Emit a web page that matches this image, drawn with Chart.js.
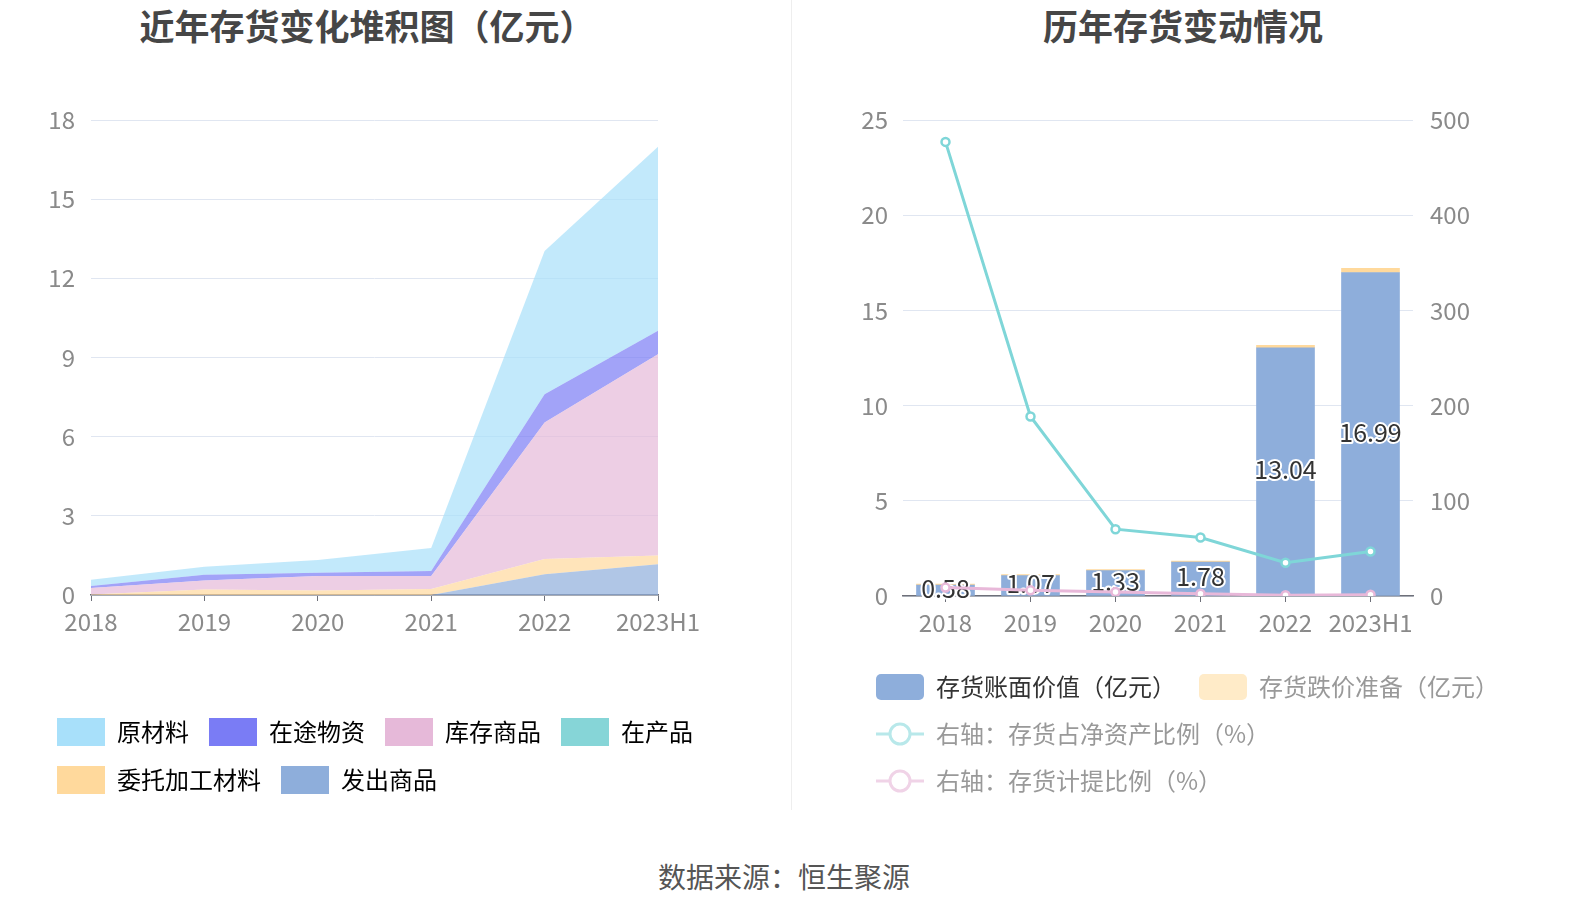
<!DOCTYPE html>
<html>
<head>
<meta charset="utf-8">
<script src="https://cdn.jsdelivr.net/npm/chart.js@4.4.0/dist/chart.umd.min.js"></script>
<style>
  html, body { margin: 0; padding: 0; background: #fff; }
  body { width: 1574px; height: 918px; position: relative; overflow: hidden; font-family: 'Noto Sans CJK SC', 'Noto Sans', sans-serif; }
  .title { position: absolute; top: 0; line-height: 50px; font-size: 35px; font-weight: bold; color: #464646; transform: translateX(-50%); white-space: nowrap; }
  .box { position: absolute; top: 0; height: 820px; }
  .divider { position: absolute; left: 791px; top: 0; width: 1px; height: 810px; background: #eeeeee; }
  .source { position: absolute; left: 784px; top: 856px; line-height: 40px; font-size: 28px; color: #555; transform: translateX(-50%); white-space: nowrap; }
</style>
</head>
<body>
<div class="title" style="left:367px">近年存货变化堆积图（亿元）</div>
<div class="title" style="left:1183px">历年存货变动情况</div>
<div class="box" style="left:0;width:785px"><canvas id="stackChart"></canvas></div>
<div class="divider"></div>
<div class="box" style="left:800px;width:774px"><canvas id="barChart"></canvas></div>
<div class="source">数据来源：恒生聚源</div>

<script>
// --- data (亿元) ---
const years = ['2018', '2019', '2020', '2021', '2022', '2023H1'];

// stacked area, bottom to top
const shippedGoods   = [0, 0, 0, 0, 0.79, 1.17];             // 发出商品
const outsourcedMat  = [0.02, 0.21, 0.17, 0.23, 0.57, 0.33]; // 委托加工材料
const workInProgress = [0, 0, 0, 0, 0, 0];                   // 在产品
const finishedGoods  = [0.25, 0.34, 0.55, 0.49, 5.18, 7.62]; // 库存商品
const inTransit      = [0.07, 0.22, 0.12, 0.19, 1.07, 0.89]; // 在途物资
const rawMaterials   = [0.24, 0.30, 0.49, 0.87, 5.43, 6.98]; // 原材料

// right chart
const bookValue      = [0.58, 1.07, 1.33, 1.78, 13.04, 16.99]; // 存货账面价值
const impairment     = [0.05, 0.06, 0.06, 0.05, 0.12, 0.22];   // 存货跌价准备
const netAssetRatio  = [477, 188.6, 70.2, 61.4, 35, 46.7];     // 存货占净资产比例 %
const provisionRatio = [8.8, 6.0, 4.2, 2.3, 0.9, 1.3];         // 存货计提比例 %

const leftTicks = { min: 0, max: 18, step: 3 };
const rightTicks = { min: 0, max: 25, step: 5 };
const ratioTicks = { min: 0, max: 500, step: 100 };

Chart.defaults.font.family = "'Noto Sans CJK SC', 'Noto Sans', sans-serif";
Chart.defaults.animation = false;
Chart.defaults.plugins.tooltip.enabled = false;

const AXIS_GREY = '#6E7079';
const LABEL_GREY = '#8a8a8a';
const GRID = '#E0E6F1';
const TICK_SIZE = 24;

function fade(hex, a) {
    const n = parseInt(hex.slice(1), 16);
    return `rgba(${n >> 16}, ${(n >> 8) & 255}, ${n & 255}, ${a})`;
}

// --- 1. STACKED AREA CHART ---
const areaSeries = [
    { label: '发出商品', data: shippedGoods, color: '#8EAEDB' },
    { label: '委托加工材料', data: outsourcedMat, color: '#FFD99C' },
    { label: '在产品', data: workInProgress, color: '#86D5D7' },
    { label: '库存商品', data: finishedGoods, color: '#E6B9D9' },
    { label: '在途物资', data: inTransit, color: '#7A7CF5' },
    { label: '原材料', data: rawMaterials, color: '#A8E0FA' }
];

new Chart(document.getElementById('stackChart'), {
    type: 'line',
    data: {
        labels: years,
        datasets: areaSeries.map((s, i) => ({
            label: s.label,
            data: s.data,
            baseColor: s.color,
            backgroundColor: fade(s.color, 0.7),
            borderColor: fade(s.color, 0.7),
            borderWidth: 0,
            pointRadius: 0,
            tension: 0,
            fill: i === 0 ? 'origin' : '-1'
        }))
    },
    options: {
        responsive: true,
        maintainAspectRatio: false,
        layout: { padding: { left: 37, right: 20, top: 120, bottom: 16 } },
        plugins: {
            legend: {
                position: 'bottom',
                align: 'start',
                reverse: true,
                labels: {
                    boxWidth: 48,
                    boxHeight: 28,
                    padding: 20,
                    useBorderRadius: true,
                    borderRadius: 6,
                    color: '#333',
                    font: { size: 24 },
                    generateLabels: chart => chart.data.datasets.map((ds, i) => ({
                        text: ds.label,
                        fillStyle: ds.baseColor,
                        strokeStyle: ds.baseColor,
                        lineWidth: 0,
                        hidden: false,
                        datasetIndex: i
                    }))
                }
            }
        },
        scales: {
            x: {
                offset: false,
                grid: { drawOnChartArea: false, drawTicks: true, tickLength: 6, color: AXIS_GREY },
                border: { color: AXIS_GREY, width: 1.5 },
                ticks: { color: LABEL_GREY, font: { size: TICK_SIZE }, padding: 6, autoSkip: false, maxRotation: 0 },
                afterFit: s => { s.height = 103; s.paddingRight = 127; }
            },
            y: {
                stacked: true,
                min: leftTicks.min,
                max: leftTicks.max,
                grid: { color: GRID, drawTicks: false },
                border: { display: false },
                ticks: { stepSize: leftTicks.step, color: LABEL_GREY, font: { size: TICK_SIZE }, padding: 16 },
                afterFit: s => { s.width = 54; }
            }
        }
    }
});

// --- 2. BAR + LINE CHART ---
function legendIcon(color, kind) {
    const c = document.createElement('canvas');
    c.width = 48;
    c.height = 26;
    const g = c.getContext('2d');
    if (kind === 'bar') {
        g.fillStyle = color;
        g.beginPath();
        g.roundRect(0, 0, 48, 26, 5);
        g.fill();
    } else {
        g.strokeStyle = color;
        g.lineWidth = 3;
        g.beginPath();
        g.moveTo(0, 13);
        g.lineTo(48, 13);
        g.stroke();
        g.fillStyle = '#fff';
        g.beginPath();
        g.arc(24, 13, 10, 0, Math.PI * 2);
        g.fill();
        g.stroke();
    }
    return c;
}

const legendIcons = [
    legendIcon('#8EAEDB', 'bar'),
    legendIcon('#FFEBC8', 'bar'),
    legendIcon('#B8E8EA', 'line'),
    legendIcon('#F0D3E7', 'line')
];
const legendColors = ['#333', '#999', '#999', '#999'];

// value labels on the book value bars
const barLabels = {
    id: 'barLabels',
    afterDatasetDraw(chart, args) {
        if (args.index !== 0) return;
        const ctx = chart.ctx;
        ctx.save();
        ctx.font = "25px 'Noto Sans CJK SC', 'Noto Sans', sans-serif";
        ctx.textAlign = 'center';
        ctx.textBaseline = 'middle';
        ctx.lineJoin = 'round';
        args.meta.data.forEach((bar, i) => {
            const { x, y, base } = bar.getProps(['x', 'y', 'base'], true);
            const cy = (y + base) / 2 - 2;
            const txt = bookValue[i].toFixed(2);
            ctx.lineWidth = 4;
            ctx.strokeStyle = '#fff';
            ctx.strokeText(txt, x, cy);
            ctx.fillStyle = '#333';
            ctx.fillText(txt, x, cy);
        });
        ctx.restore();
    }
};

new Chart(document.getElementById('barChart'), {
    type: 'bar',
    data: {
        labels: years,
        datasets: [
            {
                label: '存货账面价值（亿元）',
                data: bookValue,
                backgroundColor: '#8EAEDB',
                barThickness: 58,
                yAxisID: 'y',
                order: 2
            },
            {
                label: '存货跌价准备（亿元）',
                data: impairment,
                backgroundColor: '#FFD99C',
                barThickness: 58,
                yAxisID: 'y',
                order: 2
            },
            {
                type: 'line',
                label: '右轴：存货占净资产比例（%）',
                data: netAssetRatio,
                borderColor: '#7FD6D8',
                borderWidth: 3,
                pointRadius: 4,
                pointBorderWidth: 2.5,
                pointBackgroundColor: '#fff',
                pointBorderColor: '#7FD6D8',
                tension: 0,
                yAxisID: 'y2',
                order: 1
            },
            {
                type: 'line',
                label: '右轴：存货计提比例（%）',
                data: provisionRatio,
                borderColor: '#E8B8D9',
                borderWidth: 3,
                pointRadius: 4,
                pointBorderWidth: 2.5,
                pointBackgroundColor: '#fff',
                pointBorderColor: '#E8B8D9',
                tension: 0,
                yAxisID: 'y2',
                order: 1
            }
        ]
    },
    options: {
        responsive: true,
        maintainAspectRatio: false,
        layout: { padding: { left: 53, right: 20, top: 120, bottom: 17 } },
        plugins: {
            legend: {
                position: 'bottom',
                align: 'start',
                labels: {
                    usePointStyle: true,
                    pointStyleWidth: 48,
                    padding: 23,
                    font: { size: 24 },
                    generateLabels: chart => chart.data.datasets.map((ds, i) => ({
                        text: ds.label,
                        pointStyle: legendIcons[i],
                        fontColor: legendColors[i],
                        fillStyle: 'transparent',
                        strokeStyle: 'transparent',
                        lineWidth: 0,
                        hidden: false,
                        datasetIndex: i
                    }))
                }
            }
        },
        scales: {
            x: {
                stacked: true,
                offset: true,
                grid: { offset: false, drawOnChartArea: false, drawTicks: true, tickLength: 6, color: AXIS_GREY },
                border: { color: AXIS_GREY, width: 1.5 },
                ticks: { color: LABEL_GREY, font: { size: TICK_SIZE }, padding: 6, autoSkip: false, maxRotation: 0 },
                afterFit: s => { s.height = 56; }
            },
            y: {
                stacked: true,
                position: 'left',
                min: rightTicks.min,
                max: rightTicks.max,
                grid: { color: GRID, drawTicks: false },
                border: { display: false },
                ticks: { stepSize: rightTicks.step, color: LABEL_GREY, font: { size: TICK_SIZE }, padding: 15 },
                afterFit: s => { s.width = 50; }
            },
            y2: {
                position: 'right',
                min: ratioTicks.min,
                max: ratioTicks.max,
                grid: { drawOnChartArea: false, drawTicks: false },
                border: { display: false },
                ticks: { stepSize: ratioTicks.step, color: LABEL_GREY, font: { size: TICK_SIZE }, padding: 17 },
                afterFit: s => { s.width = 141; }
            }
        }
    },
    plugins: [barLabels]
});
</script>
</body>
</html>
